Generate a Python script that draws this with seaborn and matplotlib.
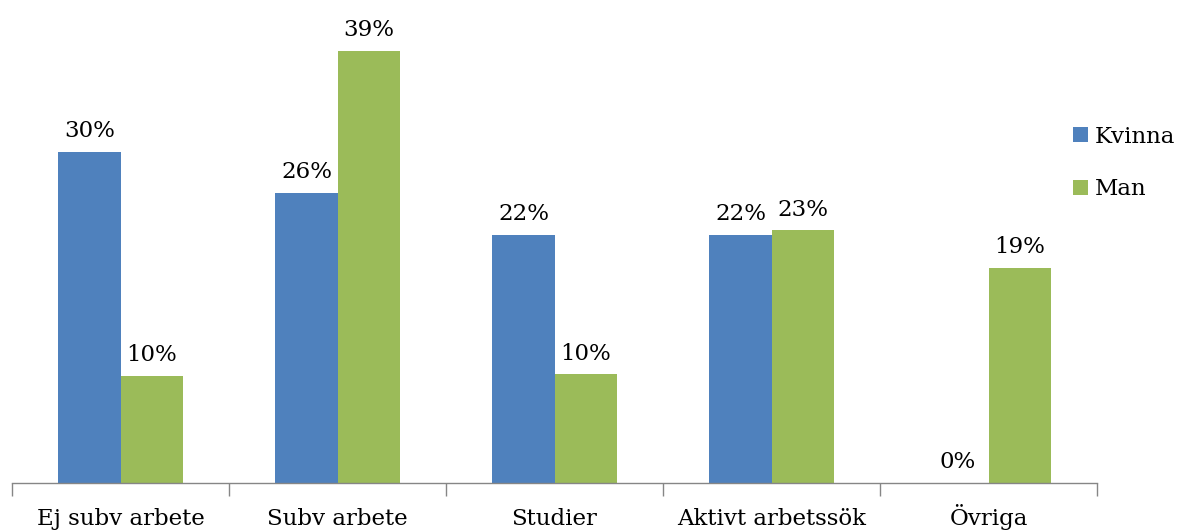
import pandas as pd
import matplotlib.pyplot as plt
import seaborn as sns

# Data (percent)
categories = ["Ej subv arbete", "Subv arbete", "Studier", "Aktivt arbetssök", "Övriga"]
kvinna = [29.9, 26.2, 22.4, 22.4, 0.0]
man = [9.7, 39.0, 9.8, 22.8, 19.4]
series = ["Kvinna", "Man"]
colors = ["#4F81BD", "#9BBB59"]

df = pd.DataFrame({
    "kategori": categories * 2,
    "andel": kvinna + man,
    "kon": [series[0]] * len(categories) + [series[1]] * len(categories),
})

sns.set_theme(style="white")
plt.rcParams["font.family"] = ["DejaVu Serif"]
plt.rcParams["text.color"] = "black"

fig = plt.figure(figsize=(11.8, 5.3), dpi=100)
ax = fig.add_axes([12 / 1180, 47 / 530, 1085 / 1180, 473 / 530])

sns.barplot(data=df, x="kategori", y="andel", hue="kon", palette=colors,
            width=0.572, saturation=1, ax=ax, errorbar=None, linewidth=0)

ax.set_xlim(-0.5, len(categories) - 0.5)
ax.set_ylim(0, 42.7)

# Data labels
for container in ax.containers:
    ax.bar_label(container, labels=[f"{v:.0f}%" for v in container.datavalues],
                 padding=7, fontsize=16.5, color="black")

# Axis styling: only a grey baseline with ticks between categories
for side in ["left", "right", "top"]:
    ax.spines[side].set_visible(False)
ax.spines["bottom"].set_color("#868686")
ax.spines["bottom"].set_linewidth(1)
ax.set_yticks([])
ax.set_xlabel("")
ax.set_ylabel("")
ax.set_xticks(range(len(categories)))
ax.set_xticklabels(categories, fontsize=16.5, color="black", va="baseline")
ax.tick_params(axis="x", which="major", length=0, pad=30)
ax.set_xticks([i - 0.5 for i in range(len(categories) + 1)], minor=True)
ax.tick_params(axis="x", which="minor", bottom=True, length=9, width=1,
               color="#868686", direction="out")

# Legend with square markers on the right
handles, labels = ax.get_legend_handles_labels()
leg = ax.legend(handles, labels, loc="center left",
                bbox_to_anchor=(1073 / 1180, (530 - 163) / 530),
                bbox_transform=fig.transFigure, frameon=False, fontsize=16.5,
                handlelength=0.65, handleheight=0.65, handletextpad=0.3,
                labelspacing=1.35, borderpad=0, borderaxespad=0)
for t in leg.get_texts():
    t.set_color("black")

plt.savefig("out.png", dpi=100)
